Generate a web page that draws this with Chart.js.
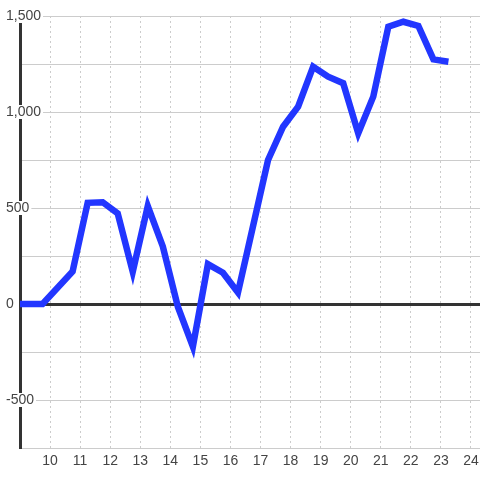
<!DOCTYPE html>
<html>
<head>
<meta charset="utf-8">
<script src="https://cdn.jsdelivr.net/npm/chart.js@4/dist/chart.umd.min.js"></script>
<style>
  html, body { margin: 0; padding: 0; background: #fff; }
  #wrap { width: 480px; height: 480px; }
</style>
</head>
<body>
<div id="wrap"><canvas id="chart"></canvas></div>
<script>
var BLUE = "#2236ff"
var GRID = "#cccccc"
var DARK = "#333333"

var hours = [9, 9.75, 10.75, 11.25, 11.75, 12.25, 12.75, 13.25, 13.75, 14.25,
  14.75, 15.25, 15.75, 16.25, 16.75, 17.25, 17.75, 18.25, 18.75, 19.25,
  19.75, 20.25, 20.75, 21.25, 21.75, 22.25, 22.75, 23.25]
var values = [0, 0, 170, 527, 530, 472, 168, 510, 300, -14,
  -222, 208, 163, 60, 405, 750, 923, 1028, 1236, 1184,
  1150, 889, 1080, 1444, 1470, 1448, 1274, 1262]
var xTicks = [9, 10, 11, 12, 13, 14, 15, 16, 17, 18, 19, 20, 21, 22, 23, 24]
var yLabelled = [-500, 0, 500, 1000, 1500]

Chart.defaults.font.family = "'Liberation Sans', Arial, sans-serif"
Chart.defaults.font.size = 14

var points = hours.map(function (h, i) { return { x: h, y: values[i] } })

new Chart(document.getElementById("chart"), {
  type: "line",
  data: {
    datasets: [{
      data: points,
      borderColor: BLUE,
      borderWidth: 6.5,
      pointRadius: 0,
      tension: 0,
      fill: false
    }]
  },
  options: {
    animation: false,
    responsive: true,
    maintainAspectRatio: false,
    layout: { padding: { top: 16, left: 0, right: 0, bottom: 0 } },
    plugins: { legend: { display: false }, tooltip: { enabled: false } },
    scales: {
      x: {
        type: "linear",
        min: 9,
        max: 24.3,
        afterBuildTicks: function (scale) {
          scale.ticks = xTicks.map(function (v) { return { value: v } })
        },
        afterFit: function (scale) {
          scale.height = 32
          scale.paddingLeft = 0
          scale.paddingRight = 0
        },
        grid: { color: GRID, lineWidth: 1, drawTicks: false },
        border: { display: true, color: GRID, width: 1, dash: [2, 3] },
        ticks: {
          color: "#444",
          padding: 6,
          maxRotation: 0,
          autoSkip: false,
          font: { lineHeight: 1 },
          callback: function (v) { return v >= 10 ? String(v) : "" }
        }
      },
      y: {
        min: -750,
        max: 1500,
        afterFit: function (scale) { scale.width = 20 },
        grid: {
          drawTicks: false,
          color: function (c) { return c.tick && c.tick.value === 0 ? DARK : GRID },
          lineWidth: function (c) { return c.tick && c.tick.value === 0 ? 3 : 1 }
        },
        border: { display: true, color: DARK, width: 3 },
        ticks: {
          stepSize: 250,
          color: "#444",
          mirror: true,
          padding: -14,
          font: { lineHeight: 1 },
          showLabelBackdrop: true,
          backdropPadding: { top: 0, bottom: 0, left: 2, right: 2 },
          backdropColor: function (c) {
            return yLabelled.indexOf(c.tick.value) >= 0 ? "#ffffff" : "rgba(0,0,0,0)"
          },
          callback: function (v) {
            return yLabelled.indexOf(v) >= 0 ? v.toLocaleString("en-US") : ""
          }
        }
      }
    }
  }
})
</script>
</body>
</html>
